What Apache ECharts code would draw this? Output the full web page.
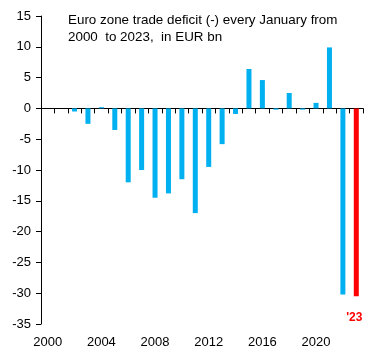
<!DOCTYPE html>
<html><head><meta charset="utf-8">
<script src="https://cdn.jsdelivr.net/npm/echarts@6/dist/echarts.min.js"></script>
<style>html,body{margin:0;padding:0;background:#fff}#c{width:384px;height:360px}</style>
</head><body><div id="c"></div>
<script>
const years = ['2000','2001','2002','2003','2004','2005','2006','2007','2008','2009','2010','2011','2012','2013','2014','2015','2016','2017','2018','2019','2020','2021','2022','2023'];
const balance = [0, 0, -0.5, -2.5, 0.2, -3.5, -12.0, -10.0, -14.5, -13.8, -11.5, -17.0, -9.5, -5.8, -0.9, 6.4, 4.6, -0.2, 2.5, -0.2, 0.9, 9.9, -30.2, -30.5];
const yTicks = {min: -35, max: 15, step: 5};
const titleLines = ['Euro zone trade deficit (-) every January from', '2000  to 2023,  in EUR bn'];
const lastLabel = "'23";

const font = 'Liberation Sans';
const data = balance.map((v, i) => {
  if (i === balance.length - 1) {
    return {value: v, itemStyle: {color: '#FF0000'},
      label: {show: true, position: 'bottom', distance: 15, offset: [-2, 0], formatter: lastLabel,
        color: '#FF0000', fontWeight: 'bold', fontSize: 12, fontFamily: font}};
  }
  return v;
});

const chart = echarts.init(document.getElementById('c'), null, {renderer: 'canvas'});
chart.setOption({
  animation: false,
  title: {text: titleLines.join('\n'), left: 63, top: 7,
    textStyle: {fontSize: 13.4, fontWeight: 'normal', color: '#000', fontFamily: font, lineHeight: 17}},
  grid: {left: 41, right: 21, top: 16, bottom: 36},
  xAxis: [
    {type: 'category', data: years, position: 'bottom',
     axisLine: {show: false, onZero: false}, axisTick: {show: false},
     axisLabel: {interval: 3, margin: 12, fontSize: 13, color: '#000', fontFamily: font}},
    {type: 'category', data: years, position: 'bottom',
     axisLine: {show: true, onZero: true, lineStyle: {color: '#000', width: 1}},
     axisTick: {show: true, interval: 0, length: 5, lineStyle: {color: '#000'}},
     axisLabel: {show: false}}
  ],
  yAxis: {type: 'value', min: yTicks.min, max: yTicks.max, interval: yTicks.step,
    axisLine: {show: true, lineStyle: {color: '#000'}},
    axisTick: {show: true, length: 5, lineStyle: {color: '#000'}},
    splitLine: {show: false},
    axisLabel: {margin: 10, fontSize: 13, color: '#000', fontFamily: font}},
  series: [{type: 'bar', xAxisIndex: 0, data: data, barWidth: 5,
    itemStyle: {color: '#00B0F0'}}]
});
</script></body></html>
